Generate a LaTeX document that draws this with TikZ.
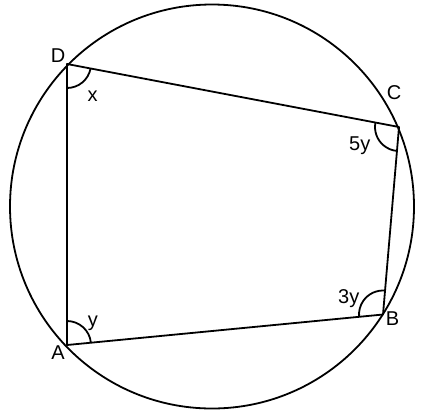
\documentclass[tikz,border=0pt]{standalone}
\usepackage{fontspec}
\setmainfont{Liberation Sans}
\usetikzlibrary{angles}
\begin{document}
\begin{tikzpicture}[x=1pt,y=-1pt,
  edge/.style={line width=1.8pt,line join=round},
  lbl/.style={inner sep=0pt,font=\fontsize{20}{24}\selectfont},
  ang/.style={draw,line width=1.8pt,angle radius=24pt}]
\useasboundingbox (0,0) rectangle (435,416);
\coordinate (O) at (212,206.5);
\coordinate (D) at (67,64);
\coordinate (C) at (399,127);
\coordinate (B) at (383,314.5);
\coordinate (A) at (67,345);
\draw[edge] (O) circle[radius=202];
\draw[edge] (D) -- (C) -- (B) -- (A) -- cycle;
\pic[ang] {angle=A--D--C};
\pic[ang] {angle=D--C--B};
\pic[ang] {angle=C--B--A};
\pic[ang] {angle=B--A--D};
\node[lbl] (lD) at (58,56) {D};
\node[lbl] (lC) at (394,92.5) {C};
\node[lbl] (lB) at (392.5,319) {B};
\node[lbl] (lA) at (58,353) {A};
\node[lbl] (lx) at (92.5,96) {x};
\node[lbl,anchor=base west] (l5y) at (349,150) {5y};
\node[lbl,anchor=base west] (l3y) at (338,303) {3y};
\node[lbl,anchor=base] (ly) at (92.8,326) {y};
\end{tikzpicture}
\end{document}
